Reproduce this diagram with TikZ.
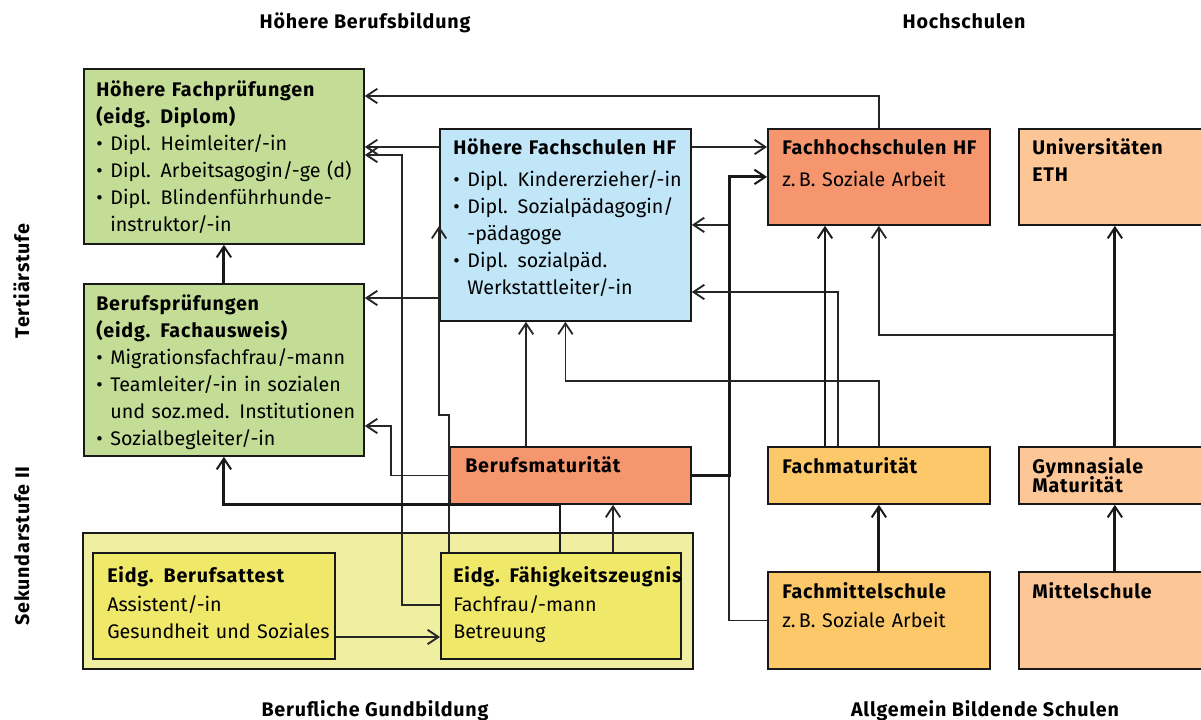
\documentclass[tikz,border=0pt]{standalone}
\usepackage{fontspec}
\setmainfont{Fira Sans}[BoldFeatures={LetterSpace=4}]
\usetikzlibrary{arrows.meta}

\definecolor{hfpgreen}{RGB}{196,221,150}
\definecolor{hfblue}{RGB}{192,230,248}
\definecolor{fhsalmon}{RGB}{246,150,110}
\definecolor{unipeach}{RGB}{252,198,150}
\definecolor{fmorange}{RGB}{252,200,105}
\definecolor{gbyellow}{RGB}{240,238,160}
\definecolor{efzyellow}{RGB}{240,232,104}

\newcommand\pxu{0.025cm}
\newcommand\bodyfont{\fontsize{14}{19.2}\selectfont}
\newcommand\bul{\makebox[10pt][l]{\textbullet}}
\newcommand\ind{\hspace*{10pt}}

\begin{document}
\begin{tikzpicture}[
    x=0.025cm, y=-0.025cm,
    box/.style={
        rectangle, draw=black!90, line width=1.3pt,
        anchor=north west, inner sep=0pt
    },
    txt/.style={
        anchor=base west, inner sep=0pt,
        text width=280*\pxu, align=left,
        font=\bodyfont
    },
    head/.style={font=\bodyfont\bfseries, inner sep=0pt, anchor=base},
    conn/.style={
        line width=1.05pt, draw=black!85,
        -{Straight Barb[length=0.27cm, width=0.36cm, line width=1.3pt]}
    },
    thickconn/.style={
        line width=2.1pt, draw=black!90,
        -{Straight Barb[length=0.27cm, width=0.36cm, line width=1.4pt]}
    }
]
\useasboundingbox (0,0) rectangle (1201,720);

% Ueberschriften
\node[head] (h-hb) at (365,29) {Höhere Berufsbildung};
\node[head] (h-hs) at (964,29) {Hochschulen};
\node[head] (h-bg) at (375,716) {Berufliche Gundbildung};
\node[head] (h-ab) at (985,716) {Allgemein Bildende Schulen};
\node[head, rotate=90] (h-ts) at (29,281) {Tertiärstufe};
\node[head, rotate=90] (h-s2) at (29,546) {Sekundarstufe II};

% Kaesten
\node[box, fill=gbyellow, minimum width=610*\pxu, minimum height=136*\pxu] (gb) at (82,532) {};
\node[box, fill=efzyellow, minimum width=242*\pxu, minimum height=106*\pxu] (eba) at (92,552) {};
\node[box, fill=efzyellow, minimum width=240*\pxu, minimum height=106*\pxu] (efz) at (440,552) {};
\node[box, fill=hfpgreen, minimum width=280*\pxu, minimum height=175*\pxu] (hfp) at (83,68) {};
\node[box, fill=hfpgreen, minimum width=280*\pxu, minimum height=172*\pxu] (bp) at (83,283) {};
\node[box, fill=hfblue, minimum width=251*\pxu, minimum height=192*\pxu] (hf) at (439,128) {};
\node[box, fill=fhsalmon, minimum width=222*\pxu, minimum height=96*\pxu] (fh) at (767,128) {};
\node[box, fill=unipeach, minimum width=192*\pxu, minimum height=96*\pxu] (uni) at (1018,128) {};
\node[box, fill=fhsalmon, minimum width=241*\pxu, minimum height=57*\pxu] (bm) at (449,446) {};
\node[box, fill=fmorange, minimum width=222*\pxu, minimum height=57*\pxu] (fm) at (767,446) {};
\node[box, fill=unipeach, minimum width=192*\pxu, minimum height=57*\pxu] (gm) at (1018,446) {};
\node[box, fill=fmorange, minimum width=222*\pxu, minimum height=97*\pxu] (fms) at (767,571) {};
\node[box, fill=unipeach, minimum width=192*\pxu, minimum height=97*\pxu] (ms) at (1018,571) {};

% Texte
\node[txt] (hfp-t) at ([shift={(13,29)}]hfp.north west)
    {\textbf{Höhere Fachprüfungen}\\
     \textbf{(eidg. Diplom)}\\
     \bul Dipl. Heimleiter/-in\\
     \bul Dipl. Arbeitsagogin/-ge (d)\\
     \bul Dipl. Blindenführhunde-\\
     \ind instruktor/-in};
\node[txt] (bp-t) at ([shift={(13,28)}]bp.north west)
    {\textbf{Berufsprüfungen}\\
     \textbf{(eidg. Fachausweis)}\\
     \bul Migrationsfachfrau/-mann\\
     \bul Teamleiter/-in in sozialen\\
     \ind und soz.med. Institutionen\\
     \bul Sozialbegleiter/-in};
\node[txt] (hf-t) at ([shift={(14,27)}]hf.north west)
    {\textbf{Höhere Fachschulen HF}\\[3pt]
     \bul Dipl. Kindererzieher/-in\\
     \bul Dipl. Sozialpädagogin/\\
     \ind -pädagoge\\
     \bul Dipl. sozialpäd.\\
     \ind Werkstattleiter/-in};
\node[txt] (fh-t) at ([shift={(15,27)}]fh.north west)
    {\textbf{Fachhochschulen HF}\\[3pt]
     z.\,B. Soziale Arbeit};
\node[txt] (uni-t) at ([shift={(14,27)}]uni.north west)
    {\textbf{Universitäten}\\
     \textbf{ETH}};
\node[txt] (bm-t) at ([shift={(16,26)}]bm.north west) {\textbf{Berufsmaturität}};
\node[txt] (fm-t) at ([shift={(15,27)}]fm.north west) {\textbf{Fachmaturität}};
\node[txt] (gm-t) at ([shift={(14,27)}]gm.north west)
    {\textbf{Gymnasiale}\\[-5pt]
     \textbf{Maturität}};
\node[txt] (fms-t) at ([shift={(15,27)}]fms.north west)
    {\textbf{Fachmittelschule}\\[2pt]
     z.\,B. Soziale Arbeit};
\node[txt] (ms-t) at ([shift={(14,27)}]ms.north west) {\textbf{Mittelschule}};
\node[txt] (eba-t) at ([shift={(15,30)}]eba.north west)
    {\textbf{Eidg. Berufsattest}\\[2pt]
     Assistent/-in\\
     Gesundheit und Soziales};
\node[txt] (efz-t) at ([shift={(13,30)}]efz.north west)
    {\textbf{Eidg. Fähigkeitszeugnis}\\[2pt]
     Fachfrau/-mann\\
     Betreuung};

% Verbindungen Tertiaerstufe
\draw[conn] (fh.north) |- (hfp.east |- 0,96);
\draw[conn] (hf.west |- 0,147) -- (hfp.east |- 0,147);
\draw[conn] (hf.east |- 0,147) -- (fh.west |- 0,147);
\draw[conn] (hf.west |- 0,298) -- (bp.east |- 0,298);
\draw[thickconn] (bp.north) -- (hfp.south);

% Verbindungen aus der Grundbildung
\draw[conn] (efz.west |- 0,605) -| (402,155) -- (hfp.east |- 0,155);
\draw[conn] (bm.west) -| (391,426) -- (bp.east |- 0,426);
\draw[conn] (efz.north -| 449,0) |- (439,415) -- (hf.west |- 0,226);
\draw[conn] (bm.north -| 526,0) -- (hf.south -| 526,0);
\draw[thickconn] (efz.north -| 560,0) |- (bm.south -| bp.south) -- (bp.south);
\draw[conn] (efz.north -| 613,0) -- (bm.south -| 613,0);
\draw[conn] (eba.east |- 0,637) -- (efz.west |- 0,637);

% Verbindungen Allgemeinbildung
\draw[conn] (fms.west) -- ++(-38,0) |- (hf.east);
\draw[thickconn] (bm.east) -- ++(38,0) |- (fh.west);
\draw[conn] (fm.north) -- (fm.north |- 0,381) -| (hf.south);
\draw[conn] (fm.north -| 838,0) |- (hf.east |- 0,292);
\draw[thickconn] (fm.north -| 825,0) -- (fh.south -| 825,0);
\draw[conn] (gm.north |- 0,335) -| (fh.south);
\draw[thickconn] (gm.north) -- (uni.south);
\draw[thickconn] (fms.north) -- (fm.south);
\draw[thickconn] (ms.north) -- (gm.south);

\end{tikzpicture}
\end{document}
